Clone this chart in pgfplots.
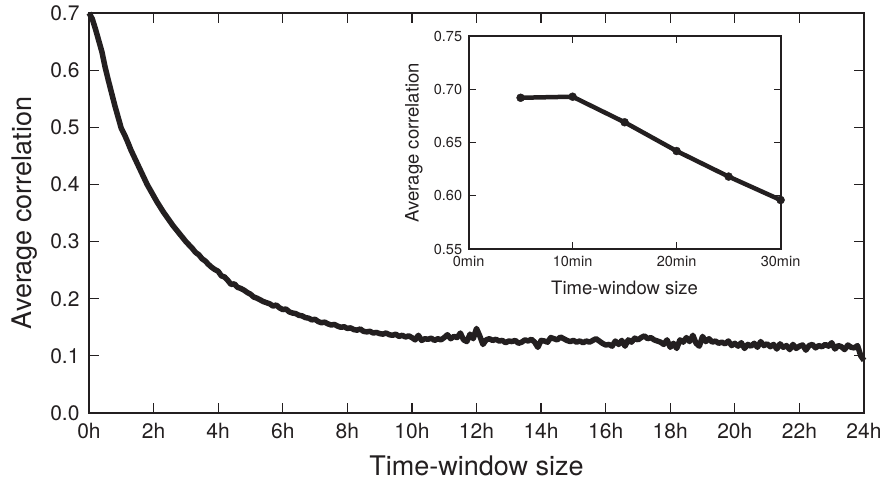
\documentclass[border=0pt]{standalone}
\usepackage{pgfplots}
\pgfplotsset{compat=1.18}
\usepackage{fontspec}
\setmainfont{TeX Gyre Heros}
\definecolor{ink}{HTML}{231F20}
\begin{document}
\begin{tikzpicture}[x=1pt,y=1pt]
\useasboundingbox (-89,-70) rectangle (797,413);
\begin{axis}[
  at={(0,0)}, anchor=south west,
  scale only axis, width=775pt, height=400pt,
  xmin=0, xmax=24, ymin=0, ymax=0.7,
  xtick={0,2,...,24},
  xticklabels={0h,2h,4h,6h,8h,10h,12h,14h,16h,18h,20h,22h,24h},
  ytick={0,0.1,...,0.7},
  yticklabel style={xshift=-6pt, /pgf/number format/.cd,fixed,fixed zerofill,precision=1},
  /pgf/number format/assume math mode=true,
  tick align=inside, major tick length=10pt,
  tick style={ink, line width=1.2pt},
  axis line style={ink, line width=2pt},
  every tick label/.append style={font=\fontsize{21}{25}\selectfont, text=ink},
  xticklabel style={yshift=-7pt},
  xlabel={Time-window size}, ylabel={Average correlation},
  label style={font=\fontsize{27}{32}\selectfont, text=ink},
  xlabel style={at={(axis description cs:0.5,-0.1325)}, anchor=center},
  ylabel style={at={(axis description cs:-0.083,0.5)}, anchor=center},
  clip=false,
]
\addplot[ink, line width=5.5pt, line join=round] coordinates {
(0.0,0.700)(0.1,0.690)(0.2,0.672)(0.3,0.652)(0.4,0.632)(0.5,0.605)(0.6,0.582)(0.7,0.560)(0.8,0.538)(0.9,0.518)
(1.0,0.498)(1.1,0.487)(1.2,0.474)(1.3,0.460)(1.4,0.448)(1.5,0.436)(1.6,0.424)(1.7,0.412)(1.8,0.400)(1.9,0.390)
(2.0,0.380)(2.1,0.370)(2.2,0.361)(2.3,0.352)(2.4,0.344)(2.5,0.336)(2.6,0.328)(2.7,0.321)(2.8,0.314)(2.9,0.307)
(3.0,0.300)(3.1,0.294)(3.2,0.288)(3.3,0.281)(3.4,0.277)(3.5,0.270)(3.6,0.266)(3.7,0.260)(3.8,0.255)(3.9,0.251)
(4.0,0.248)(4.1,0.240)(4.2,0.238)(4.3,0.232)(4.4,0.225)(4.5,0.226)(4.6,0.220)(4.7,0.218)(4.8,0.215)(4.9,0.211)
(5.0,0.208)(5.1,0.203)(5.2,0.201)(5.3,0.198)(5.4,0.195)(5.5,0.193)(5.6,0.191)(5.7,0.187)(5.8,0.189)(5.9,0.184)
(6.0,0.181)(6.1,0.182)(6.2,0.177)(6.3,0.175)(6.4,0.174)(6.5,0.171)(6.6,0.170)(6.7,0.167)(6.8,0.166)(6.9,0.163)
(7.0,0.164)(7.1,0.160)(7.2,0.158)(7.3,0.159)(7.4,0.156)(7.5,0.154)(7.6,0.155)(7.7,0.152)(7.8,0.150)(7.9,0.151)
(8.0,0.148)(8.1,0.149)(8.2,0.146)(8.3,0.145)(8.4,0.147)(8.5,0.143)(8.6,0.142)(8.7,0.143)(8.8,0.140)(8.9,0.141)
(9.0,0.139)(9.1,0.138)(9.2,0.140)(9.3,0.137)(9.4,0.136)(9.5,0.138)(9.6,0.134)(9.7,0.136)(9.8,0.133)(9.9,0.135)
(10.0,0.132)(10.1,0.128)(10.2,0.136)(10.3,0.127)(10.4,0.130)(10.5,0.129)(10.6,0.131)(10.7,0.127)(10.8,0.130)(10.9,0.128)
(11.0,0.132)(11.1,0.137)(11.2,0.130)(11.3,0.134)(11.4,0.132)(11.5,0.140)(11.6,0.128)(11.7,0.125)(11.8,0.138)(11.9,0.130)
(12.0,0.148)(12.1,0.135)(12.2,0.120)(12.3,0.128)(12.4,0.130)(12.5,0.127)(12.6,0.129)(12.7,0.126)(12.8,0.127)(12.9,0.123)
(13.0,0.126)(13.1,0.125)(13.2,0.127)(13.3,0.122)(13.4,0.124)(13.5,0.128)(13.6,0.126)(13.7,0.129)(13.8,0.124)(13.9,0.115)
(14.0,0.127)(14.1,0.126)(14.2,0.124)(14.3,0.132)(14.4,0.130)(14.5,0.128)(14.6,0.133)(14.7,0.130)(14.8,0.127)(14.9,0.125)
(15.0,0.127)(15.1,0.124)(15.2,0.126)(15.3,0.123)(15.4,0.126)(15.5,0.124)(15.6,0.127)(15.7,0.130)(15.8,0.126)(15.9,0.122)
(16.0,0.119)(16.1,0.120)(16.2,0.117)(16.3,0.126)(16.4,0.120)(16.5,0.127)(16.6,0.117)(16.7,0.128)(16.8,0.124)(16.9,0.131)
(17.0,0.128)(17.1,0.132)(17.2,0.135)(17.3,0.130)(17.4,0.132)(17.5,0.128)(17.6,0.126)(17.7,0.124)(17.8,0.120)(17.9,0.128)
(18.0,0.115)(18.1,0.122)(18.2,0.113)(18.3,0.128)(18.4,0.124)(18.5,0.132)(18.6,0.125)(18.7,0.136)(18.8,0.122)(18.9,0.117)
(19.0,0.134)(19.1,0.125)(19.2,0.130)(19.3,0.124)(19.4,0.126)(19.5,0.122)(19.6,0.124)(19.7,0.121)(19.8,0.126)(19.9,0.118)
(20.0,0.122)(20.1,0.117)(20.2,0.123)(20.3,0.113)(20.4,0.120)(20.5,0.117)(20.6,0.122)(20.7,0.115)(20.8,0.125)(20.9,0.118)
(21.0,0.121)(21.1,0.116)(21.2,0.120)(21.3,0.112)(21.4,0.121)(21.5,0.115)(21.6,0.118)(21.7,0.111)(21.8,0.120)(21.9,0.113)
(22.0,0.117)(22.1,0.119)(22.2,0.110)(22.3,0.118)(22.4,0.120)(22.5,0.114)(22.6,0.118)(22.7,0.116)(22.8,0.120)(22.9,0.117)
(23.0,0.123)(23.1,0.112)(23.2,0.118)(23.3,0.116)(23.4,0.111)(23.5,0.119)(23.6,0.115)(23.7,0.114)(23.8,0.118)(23.9,0.100)
(24.0,0.092)
};
\end{axis}
\begin{axis}[
  at={(365,154)}, anchor=south west,
  scale only axis, width=312pt, height=213pt,
  xmin=0, xmax=30, ymin=0.55, ymax=0.75,
  xtick={0,10,20,30},
  xticklabels={0min,10min,20min,30min},
  ytick={0.55,0.60,...,0.75},
  yticklabel style={xshift=-3pt, /pgf/number format/.cd,fixed,fixed zerofill,precision=2},
  /pgf/number format/assume math mode=true,
  tick align=inside, major tick length=7pt,
  tick style={ink, line width=1pt},
  axis line style={ink, line width=1.8pt},
  every tick label/.append style={font=\fontsize{14.5}{17}\selectfont, text=ink},
  xticklabel style={yshift=-4pt},
  xlabel={Time-window size}, ylabel={Average correlation},
  label style={font=\fontsize{18.5}{22}\selectfont, text=ink},
  xlabel style={at={(axis description cs:0.5,-0.183)}, anchor=center},
  ylabel style={at={(axis description cs:-0.175,0.5)}, anchor=center},
  clip=false, axis background/.style={fill=white},
]
\addplot[ink, line width=4.5pt, line join=round, mark=*, mark size=4pt, mark options={solid, fill=ink, draw=ink, line width=0.4pt}] coordinates {
(5,0.692)(10,0.693)(15,0.669)(20,0.642)(25,0.618)(30,0.596)
};
\end{axis}
\end{tikzpicture}
\end{document}
